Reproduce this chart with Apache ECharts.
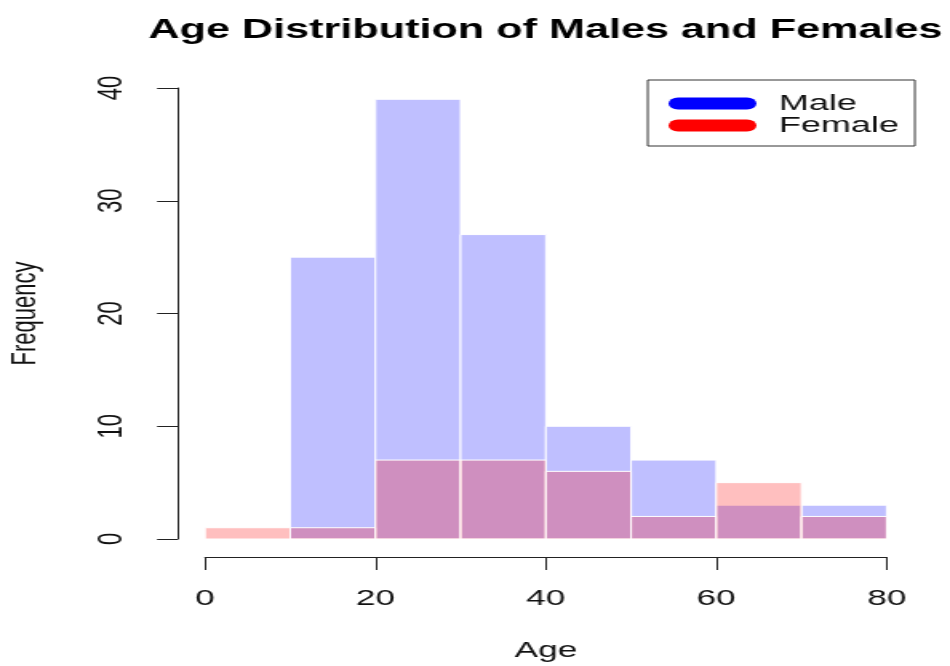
<!DOCTYPE html>
<html>
<head>
<meta charset="utf-8">
<title>Age Distribution of Males and Females</title>
<script src="https://cdn.jsdelivr.net/npm/echarts@6/dist/echarts.min.js"></script>
<style>
    html, body { margin: 0; padding: 0; background: #fff; overflow: hidden; }
    /* the original R plot is stretched sideways, so draw narrow and stretch the same way */
    #histChart { width: 594px; height: 666px; transform: scaleX(1.5993); transform-origin: 0 0; }
</style>
</head>
<body>
<div id="histChart"></div>
<script>
// histogram breaks (Age) and counts per bin
var ageBreaks = [0, 10, 20, 30, 40, 50, 60, 70, 80];
var maleCounts = [0, 25, 39, 27, 10, 7, 3, 3];
var femaleCounts = [1, 1, 7, 7, 6, 2, 5, 2];
var xTicks = [0, 20, 40, 60, 80];
var yTicks = [0, 10, 20, 30, 40];

var FONT = '"Liberation Sans", Arial, Helvetica, sans-serif';

function toBins(counts) {
    var out = [];
    for (var i = 0; i < counts.length; i++) {
        out.push([ageBreaks[i], ageBreaks[i + 1], counts[i]]);
    }
    return out;
}

function binRenderer(fill) {
    return function (params, api) {
        if (!api.value(2)) return null;
        var p0 = api.coord([api.value(0), api.value(2)]);
        var p1 = api.coord([api.value(1), 0]);
        return {
            type: 'rect',
            shape: { x: p0[0], y: p0[1], width: p1[0] - p0[0], height: p1[1] - p0[1] },
            style: { fill: fill, stroke: '#ffffff', lineWidth: 1 }
        };
    };
}

var histChart = echarts.init(document.getElementById('histChart'));

histChart.setOption({
    animation: false,
    backgroundColor: '#ffffff',
    textStyle: { fontFamily: FONT },
    graphic: [{
        type: 'text',
        x: 341,
        y: 31,
        style: {
            text: 'Age Distribution of Males and Females',
            font: 'bold 27px ' + FONT,
            fill: '#000',
            align: 'center',
            verticalAlign: 'middle'
        }
    }],
    legend: {
        orient: 'vertical',
        left: 405,
        top: 80,
        padding: [12, 10, 9, 13],
        itemGap: -1,
        itemWidth: 55,
        itemHeight: 12,
        backgroundColor: '#ffffff',
        borderColor: '#333',
        borderWidth: 1,
        borderRadius: 0,
        textStyle: { fontFamily: FONT, fontSize: 22.5, lineHeight: 21, color: '#111', padding: [0, 0, 0, 9] },
        data: [
            { name: 'Male', icon: 'path://M6,0L49,0A6,6,0,0,1,49,12L6,12A6,6,0,0,1,6,0Z', itemStyle: { color: '#0000ff' } },
            { name: 'Female', icon: 'path://M6,0L49,0A6,6,0,0,1,49,12L6,12A6,6,0,0,1,6,0Z', itemStyle: { color: '#ff0000' } }
        ]
    },
    grid: { left: 128.2, right: 39.6, top: 88, bottom: 127, containLabel: false, outerBoundsMode: 'none' },
    xAxis: {
        type: 'value',
        min: xTicks[0],
        max: xTicks[xTicks.length - 1],
        interval: xTicks[1] - xTicks[0],
        offset: 18,
        name: 'Age',
        nameLocation: 'middle',
        nameGap: 83,
        nameTextStyle: { fontFamily: FONT, fontSize: 22, color: '#111' },
        axisLine: { show: true, onZero: false, lineStyle: { color: '#222', width: 1 } },
        axisTick: { show: true, length: 13, lineStyle: { color: '#222', width: 1 } },
        axisLabel: { fontFamily: FONT, fontSize: 22, color: '#111', margin: 31 },
        splitLine: { show: false }
    },
    yAxis: {
        type: 'value',
        min: yTicks[0],
        max: yTicks[yTicks.length - 1],
        interval: yTicks[1] - yTicks[0],
        offset: 17,
        name: 'Frequency',
        nameLocation: 'middle',
        nameRotate: 90,
        nameGap: 84,
        nameTextStyle: { fontFamily: FONT, fontSize: 22, color: '#111' },
        axisLine: { show: true, onZero: false, lineStyle: { color: '#222', width: 1 } },
        axisTick: { show: true, length: 13, lineStyle: { color: '#222', width: 1 } },
        axisLabel: { fontFamily: FONT, fontSize: 22, color: '#111', rotate: 90, margin: 30 },
        splitLine: { show: false }
    },
    series: [
        {
            name: 'Male',
            type: 'custom',
            renderItem: binRenderer('rgba(0,0,255,0.25)'),
            itemStyle: { color: '#0000ff' },
            encode: { x: [0, 1], y: 2 },
            data: toBins(maleCounts)
        },
        {
            name: 'Female',
            type: 'custom',
            renderItem: binRenderer('rgba(255,0,0,0.25)'),
            itemStyle: { color: '#ff0000' },
            encode: { x: [0, 1], y: 2 },
            data: toBins(femaleCounts)
        }
    ]
});

window.addEventListener('resize', function () {
    histChart.resize();
});
</script>
</body>
</html>
